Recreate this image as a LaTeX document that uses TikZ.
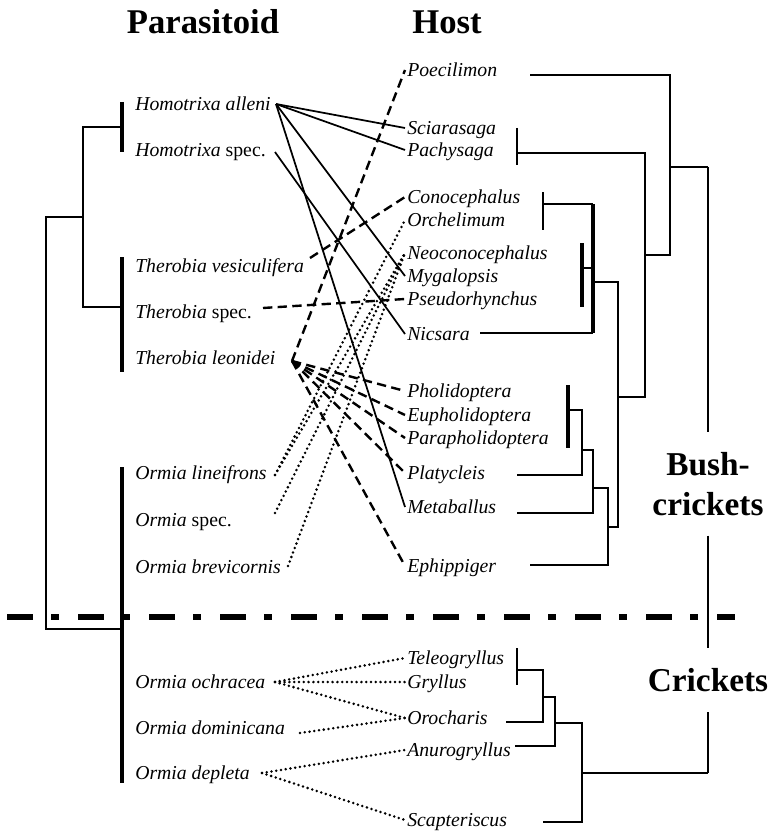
\documentclass[tikz,border=0pt]{standalone}
\usepackage{fontspec}
\setmainfont{Liberation Serif}
\usepackage{tikz}

\tikzset{
  para/.style={anchor=west, inner sep=0pt, text height=9.5pt, text depth=0pt,
    font=\fontsize{14.8}{16}\selectfont\itshape},
  host/.style={para, inner sep=1.5pt},
  title/.style={font=\fontsize{26}{30}\selectfont\bfseries},
  group/.style={font=\fontsize{25}{30}\selectfont\bfseries, align=center, inner sep=0pt},
  tree/.style={line width=1.6pt},
  bar/.style={line width=3.3pt},
  link/.style={line width=1.3pt},
  linkdash/.style={line width=1.8pt, dash pattern=on 7pt off 4pt},
  linkdot/.style={line width=2.1pt, line cap=round, dash pattern=on 0pt off 3.6pt},
  sep/.style={line width=3.8pt, dash pattern=on 19.5pt off 13.5pt on 6pt off 14.25pt}
}

\begin{document}
\begin{tikzpicture}[x=0.75pt, y=-0.75pt]
    \useasboundingbox (0,0) rectangle (767,831);
    % Títulos
    \node[title] (tpar) at (203,22) {Parasitoid};
    \node[title] (thost) at (447,22) {Host};
    % Parasitoides
    \node[para] (hal) at (135,104) {Homotrixa alleni};
    \node[para] (hsp) at (135,150) {Homotrixa {\upshape spec.}};
    \node[para] (tve) at (135,266) {Therobia vesiculifera};
    \node[para] (tsp) at (135,312) {Therobia {\upshape spec.}};
    \node[para] (tle) at (135,358) {Therobia leonidei};
    \node[para] (oli) at (135,473) {Ormia lineifrons};
    \node[para] (osp) at (135,520) {Ormia {\upshape spec.}};
    \node[para] (obr) at (135,567) {Ormia brevicornis};
    \node[para] (ooc) at (135,682) {Ormia ochracea};
    \node[para] (odo) at (135,728) {Ormia dominicana};
    \node[para] (ode) at (135,773) {Ormia depleta};
    % Pontos de saída
    \coordinate (hal-r) at (276,104);
    \coordinate (hsp-r) at (275,152);
    \coordinate (tve-r) at (310,258);
    \coordinate (tsp-r) at (263,308);
    \coordinate (tle-r) at (292,361);
    \coordinate (oli-r) at (275,475);
    \coordinate (osp-r) at (275,513);
    \coordinate (obr-r) at (288,566);
    \coordinate (ooc-r) at (275,682);
    \coordinate (odo-r) at (300,733);
    \coordinate (ode-r) at (262,773);
    % Hospedeiros
    \node[host] (poe) at (405,70) {Poecilimon};
    \node[host] (sci) at (405,128) {Sciarasaga};
    \node[host] (pac) at (405,150) {Pachysaga};
    \node[host] (con) at (405,197) {Conocephalus};
    \node[host] (orc) at (405,220) {Orchelimum};
    \node[host] (neo) at (405,253) {Neoconocephalus};
    \node[host] (myg) at (405,276) {Mygalopsis};
    \node[host] (pse) at (405,299) {Pseudorhynchus};
    \node[host] (nic) at (405,334) {Nicsara};
    \node[host] (pho) at (405,391) {Pholidoptera};
    \node[host] (eup) at (405,415) {Eupholidoptera};
    \node[host] (par) at (405,438) {Parapholidoptera};
    \node[host] (pla) at (405,473) {Platycleis};
    \node[host] (met) at (405,507) {Metaballus};
    \node[host] (eph) at (405,566) {Ephippiger};
    \node[host] (tel) at (405,658) {Teleogryllus};
    \node[host] (gry) at (405,682) {Gryllus};
    \node[host] (oro) at (405,718) {Orocharis};
    \node[host] (anu) at (405,750) {Anurogryllus};
    \node[host] (sca) at (405,820) {Scapteriscus};
    % Grupos
    \node[group, minimum height=77pt] (bush) at (708,484) {Bush-\\crickets};
    \node[group, minimum height=48pt] (cri) at (708,680) {Crickets};
    % Ligações
    \foreach \h in {sci,pac,myg,met}
        \draw[link] (hal-r) -- (\h.west);
    \draw[link] (hsp-r) -- (nic.west);
    \draw[linkdash] (tve-r) -- (con.west);
    \draw[linkdash] (tsp-r) -- (pse.west);
    \foreach \h in {poe,pho,eup,par,pla,eph}
        \draw[linkdash] (tle-r) -- (\h.west);
    \draw[linkdot] (oli-r) -- (orc.west);
    \foreach \p in {oli-r,osp-r,obr-r}
        \draw[linkdot] (\p) -- (neo.west);
    \foreach \h in {tel,gry,oro}
        \draw[linkdot] (ooc-r) -- (\h.west);
    \draw[linkdot] (odo-r) -- (oro.west);
    \draw[linkdot] (ode-r) -- (anu.west);
    \draw[linkdot] (ode-r) -- (sca.west);
    % Árvore dos parasitoides
    \draw[bar] (122,102) -- (122,152);
    \draw[bar] (122,257) -- (122,372);
    \draw[bar] (122,467) -- (122,783);
    \draw[tree] (122,127) -| (83,307) -- (122,307);
    \draw[tree] (83,217) -| (46,629) -- (122,629);
    % Árvore dos hospedeiros
    \draw[tree] (530,75) -| (670,255) -- (645,255);
    \draw[tree] (670,167) -- (708,167);
    \draw[tree] (517,128) -- (517,165);
    \draw[tree] (517,153) -| (645,397) -- (618,397);
    \draw[tree] (543,192) -- (543,230);
    \draw[tree] (543,204) -- (593,204);
    \draw[bar] (593,204) -- (593,333);
    \draw[tree] (480,333) -- (593,333);
    \draw[bar] (582,243) -- (582,307);
    \draw[tree] (582,268) -- (593,268);
    \draw[tree] (593,282) -| (618,527) -- (608,527);
    \draw[tree] (593,488) -| (608,565) -- (530,565);
    \draw[tree] (517,513) -| (593,450) -- (582,450);
    \draw[tree] (517,475) -| (582,410) -- (570,410);
    \draw[bar] (568,385) -- (568,448);
    \draw[tree] (517,648) -- (517,685);
    \draw[tree] (517,670) -| (543,722) -- (506,722);
    \draw[tree] (543,697) -| (555,746) -- (515,746);
    \draw[tree] (555,723) -| (582,822) -- (543,822);
    \draw[tree] (582,773) -- (708,773);
    \draw[tree] (708,167) -- (bush.north);
    \draw[tree] (bush.south) -- (cri.north);
    \draw[tree] (cri.south) -- (708,773);
    % Separação
    \draw[sep] (7,617) -- (735,617);
\end{tikzpicture}
\end{document}
